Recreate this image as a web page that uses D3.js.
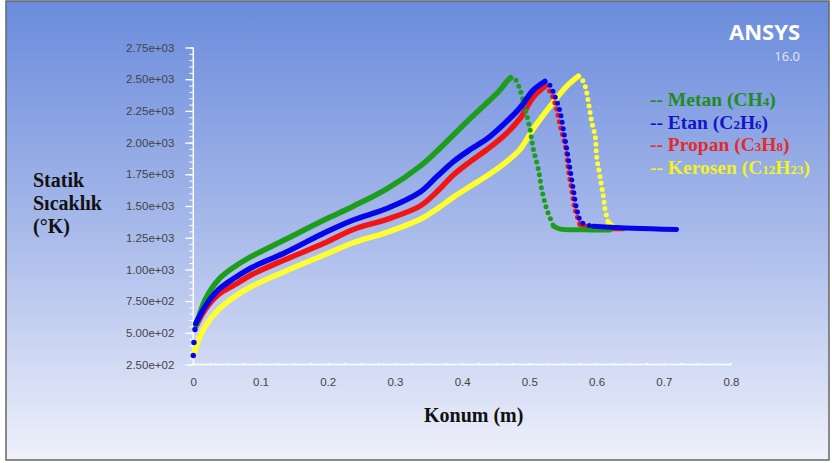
<!DOCTYPE html>
<html>
<head>
<meta charset="utf-8">
<script src="https://cdn.jsdelivr.net/npm/d3@7"></script>
<style>
  body { margin: 0; background: #fff; }
  .tick text { font-family: "Liberation Sans", Arial, sans-serif; font-size: 11.5px; fill: #444; }
  .serif { font-family: "Liberation Serif", "Times New Roman", serif; font-weight: bold; font-size: 20px; }
</style>
</head>
<body>
<div id="chart"></div>
<script>
// Chart data (x in m, T in K)
var metanX = [0.0045, 0.0178, 0.0376, 0.0625, 0.0873, 0.137, 0.196, 0.238, 0.288, 0.3375, 0.362, 0.387, 0.412, 0.437, 0.4565, 0.466, 0.472, 0.478, 0.486, 0.494, 0.501, 0.506, 0.5135, 0.5185, 0.526, 0.536, 0.546, 0.58, 0.62];
var metanT = [560, 763, 920, 1025, 1104, 1236, 1393, 1498, 1635, 1815, 1930, 2060, 2190, 2315, 2415, 2480, 2512, 2505, 2419, 2261, 2103, 1946, 1788, 1630, 1473, 1341, 1318, 1312, 1310];

var etanX = [0.0, 0.001, 0.0025, 0.0037, 0.0178, 0.0376, 0.0625, 0.0873, 0.137, 0.196, 0.238, 0.288, 0.3375, 0.362, 0.387, 0.412, 0.437, 0.4614, 0.486, 0.506, 0.523, 0.530, 0.538, 0.546, 0.5506, 0.5557, 0.5606, 0.5655, 0.5706, 0.578, 0.595, 0.654, 0.719];
var etanT = [321, 423, 526, 573, 710, 841, 936, 1015, 1133, 1291, 1390, 1480, 1610, 1730, 1850, 1945, 2030, 2143, 2274, 2415, 2482, 2455, 2366, 2237, 2103, 1946, 1788, 1630, 1473, 1370, 1341, 1325, 1315];

var propanX = [0.0045, 0.0178, 0.0376, 0.0625, 0.0873, 0.137, 0.196, 0.238, 0.288, 0.3375, 0.362, 0.387, 0.412, 0.437, 0.4614, 0.486, 0.506, 0.5234, 0.531, 0.538, 0.546, 0.5546, 0.558, 0.563, 0.568, 0.5755, 0.5926, 0.64];
var propanT = [557, 684, 802, 881, 960, 1078, 1210, 1315, 1395, 1500, 1610, 1745, 1850, 1946, 2050, 2190, 2360, 2445, 2400, 2313, 2129, 1946, 1788, 1630, 1473, 1354, 1330, 1320];

var kerosenX = [0.0005, 0.0079, 0.0178, 0.0376, 0.0625, 0.0873, 0.137, 0.196, 0.238, 0.288, 0.3375, 0.362, 0.387, 0.412, 0.437, 0.4614, 0.486, 0.506, 0.531, 0.5557, 0.573, 0.578, 0.583, 0.588, 0.593, 0.598, 0.600, 0.605, 0.610, 0.6126, 0.6176, 0.6275];
var kerosenT = [330, 447, 552, 684, 789, 867, 986, 1117, 1210, 1292, 1395, 1475, 1570, 1655, 1738, 1830, 1945, 2110, 2287, 2445, 2524, 2500, 2445, 2313, 2156, 2050, 1893, 1735, 1577, 1473, 1367, 1330];

var yTicks = [250, 500, 750, 1000, 1250, 1500, 1750, 2000, 2250, 2500, 2750];
var yTickLabels = ["2.50e+02", "5.00e+02", "7.50e+02", "1.00e+03", "1.25e+03", "1.50e+03", "1.75e+03", "2.00e+03", "2.25e+03", "2.50e+03", "2.75e+03"];
var xTicks = [0, 0.1, 0.2, 0.3, 0.4, 0.5, 0.6, 0.7, 0.8];
var xTickLabels = ["0", "0.1", "0.2", "0.3", "0.4", "0.5", "0.6", "0.7", "0.8"];

// name, subscript formula parts, colours
var series = [
  {name: "Kerosen", formula: [["C", 0], ["12", 1], ["H", 0], ["23", 1]], xs: kerosenX, ts: kerosenT, color: "rgb(255,255,45)", text: "rgb(242,242,40)", solidFrom: 0},
  {name: "Propan", formula: [["C", 0], ["3", 1], ["H", 0], ["8", 1]], xs: propanX, ts: propanT, color: "rgb(245,20,20)", text: "rgb(226,44,44)", solidFrom: 0},
  {name: "Metan", formula: [["CH", 0], ["4", 1]], xs: metanX, ts: metanT, color: "rgb(28,158,28)", text: "rgb(30,140,30)", solidFrom: 0},
  {name: "Etan", formula: [["C", 0], ["2", 1], ["H", 0], ["6", 1]], xs: etanX, ts: etanT, color: "rgb(5,5,235)", text: "rgb(20,20,200)", solidFrom: 3}
];
var legendOrder = ["Metan", "Etan", "Propan", "Kerosen"];

var W = 832, H = 463;

var svg = d3.select("#chart").append("svg")
    .attr("width", W)
    .attr("height", H);

// background gradient
var grad = svg.append("defs").append("linearGradient")
    .attr("id", "bg")
    .attr("x1", 0).attr("y1", 0).attr("x2", 0).attr("y2", 1);
grad.append("stop").attr("offset", "0%").attr("stop-color", "#6a8bdc");
grad.append("stop").attr("offset", "50%").attr("stop-color", "#a8baea");
grad.append("stop").attr("offset", "100%").attr("stop-color", "#eff1fb");

svg.append("rect")
    .attr("x", 6).attr("y", 1)
    .attr("width", 823).attr("height", 459)
    .attr("fill", "url(#bg)")
    .attr("stroke", "#666")
    .attr("stroke-width", 1.5);

// scales
var x = d3.scaleLinear().domain([0, 0.8]).range([193.3, 731]);
var y = d3.scaleLinear().domain([250, 2750]).range([364.5, 47.5]);

// y axis: minor then major
svg.append("g")
    .attr("transform", "translate(" + x(0) + ",0)")
    .call(d3.axisLeft(y).tickValues(d3.range(250, 2751, 50)).tickSize(4).tickFormat(""))
    .call(function(g) { g.select(".domain").remove(); })
    .selectAll("line").attr("stroke", "#fff");

svg.append("g")
    .attr("transform", "translate(" + x(0) + ",0)")
    .call(d3.axisLeft(y).tickValues(yTicks).tickSize(8).tickPadding(11)
      .tickFormat(function(d, i) { return yTickLabels[i]; }))
    .call(function(g) {
      g.select(".domain").attr("stroke", "#fff").attr("stroke-width", 1.5).attr("d", "M0," + y(250) + "V" + y(2750));
      g.selectAll("line").attr("stroke", "#fff").attr("stroke-width", 1.3);
    });

// x axis
svg.append("g")
    .attr("transform", "translate(0," + y(250) + ")")
    .call(d3.axisTop(x).tickValues(d3.range(0, 0.8001, 0.025)).tickSize(2).tickFormat(""))
    .call(function(g) { g.select(".domain").remove(); })
    .selectAll("line").attr("stroke", "#fff");

svg.append("g")
    .attr("transform", "translate(0," + y(250) + ")")
    .call(d3.axisBottom(x).tickValues(xTicks).tickSize(0).tickPadding(13)
      .tickFormat(function(d, i) { return xTickLabels[i]; }))
    .call(function(g) {
      g.select(".domain").attr("stroke", "#fff").attr("stroke-width", 1.5).attr("d", "M" + x(0) + ",0H" + x(0.8));
    });

// curves
var line = d3.line()
    .x(function(d) { return x(d[0]); })
    .y(function(d) { return y(d[1]); })
    .curve(d3.curveCatmullRom.alpha(0.5));

var plot = svg.append("g");

series.forEach(function(s) {
  var pts = s.xs.map(function(v, i) { return [v, s.ts[i]]; });
  var peak = d3.maxIndex(s.ts);
  var last = s.ts[s.ts.length - 1];
  var flat = peak;
  while (flat < pts.length - 1 && s.ts[flat] - last > 45) flat++;

  var rise = pts.slice(s.solidFrom, peak + 1);
  var fall = pts.slice(peak, flat + 1);
  var tail = pts.slice(flat);

  plot.append("path").attr("d", line(rise))
      .attr("fill", "none").attr("stroke", s.color)
      .attr("stroke-width", 5.5).attr("stroke-linecap", "round");

  plot.append("path").attr("d", line(fall))
      .attr("fill", "none").attr("stroke", s.color)
      .attr("stroke-width", 5).attr("stroke-linecap", "round")
      .attr("stroke-dasharray", "0 6.5");

  plot.append("path").attr("d", line(tail))
      .attr("fill", "none").attr("stroke", s.color)
      .attr("stroke-width", 5).attr("stroke-linecap", "round");

  // separate sample dots before the solid part
  plot.selectAll(null)
      .data(pts.slice(0, s.solidFrom))
    .enter().append("circle")
      .attr("cx", function(d) { return x(d[0]); })
      .attr("cy", function(d) { return y(d[1]); })
      .attr("r", 2.7)
      .attr("fill", s.color);
});

// legend
var legend = svg.append("g");
legendOrder.forEach(function(n, i) {
  var s = series.find(function(d) { return d.name === n; });
  var t = legend.append("text")
      .attr("class", "serif")
      .attr("x", 650)
      .attr("y", 106 + i * 22.7)
      .attr("fill", s.text)
      .style("font-size", "19.5px");
  t.append("tspan").text("-- " + s.name + " (");
  s.formula.forEach(function(p) {
    t.append("tspan").text(p[0]).style("font-size", p[1] ? "13px" : null);
  });
  t.append("tspan").text(")");
});

// axis titles
var ylab = svg.append("text").attr("class", "serif").attr("fill", "#111");
["Statik", "Sıcaklık", "(°K)"].forEach(function(l, i) {
  ylab.append("tspan").attr("x", 33).attr("y", 187 + i * 23).text(l);
});

svg.append("text")
    .attr("class", "serif")
    .attr("x", 424)
    .attr("y", 422)
    .attr("fill", "#111")
    .text("Konum (m)");

// ANSYS logo
svg.append("text")
    .attr("x", 800).attr("y", 40)
    .attr("text-anchor", "end")
    .style("font-family", "'Open Sans', sans-serif")
    .style("font-weight", "bold")
    .style("font-size", "22px")
    .attr("fill", "#fff")
    .text("ANSYS");

svg.append("text")
    .attr("x", 800).attr("y", 61)
    .attr("text-anchor", "end")
    .style("font-family", "'Open Sans', sans-serif")
    .style("font-size", "13px")
    .attr("fill", "#e2e7f5")
    .text("16.0");
</script>
</body>
</html>
